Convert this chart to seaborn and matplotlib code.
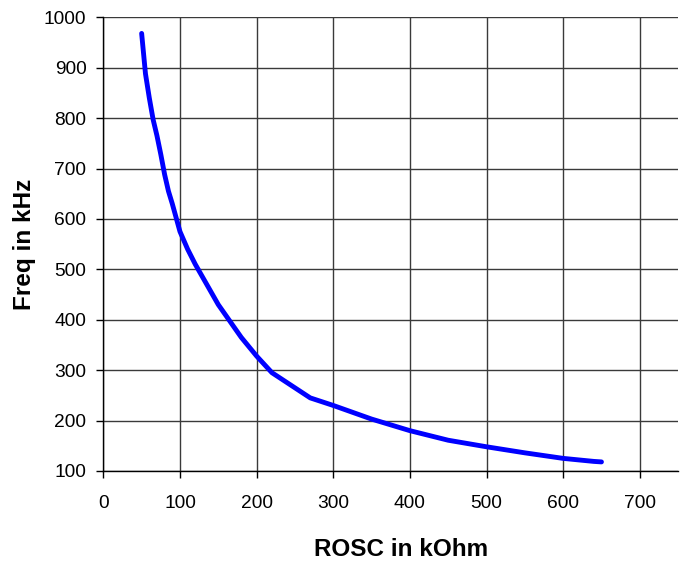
import matplotlib
matplotlib.use("Agg")
import matplotlib.pyplot as plt
import seaborn as sns
import pandas as pd

# ROSC (kOhm) vs oscillator frequency (kHz)
rosc_kohm = [50, 55, 60, 65, 70, 75, 80, 85, 90, 100, 110, 120, 150, 180, 200,
             220, 250, 270, 300, 350, 400, 450, 500, 550, 600, 620, 640, 650]
freq_khz = [968, 888, 840, 797, 765, 728, 688, 655, 630, 575, 540, 510, 430, 365, 328,
            295, 265, 245, 230, 203, 180, 161, 148, 136, 125, 122, 119, 118]

x_ticks = [0, 100, 200, 300, 400, 500, 600, 700]
y_ticks = [100, 200, 300, 400, 500, 600, 700, 800, 900, 1000]

df = pd.DataFrame({"rosc": rosc_kohm, "freq": freq_khz})

sns.set_theme(style="white")
plt.rcParams["font.family"] = ["Liberation Sans", "DejaVu Sans"]

fig = plt.figure(figsize=(6.82, 5.65), dpi=100)
ax = fig.add_axes([0.1515, 0.1664, 0.8428, 0.8030])

sns.lineplot(data=df, x="rosc", y="freq", color="#0000ff", linewidth=3.5,
             solid_capstyle="round", ax=ax)

ax.set_xlim(0, 750)
ax.set_ylim(100, 1000)
ax.set_xticks(x_ticks)
ax.set_yticks(y_ticks)
ax.grid(True, color="#3a3a3a", linewidth=1.0)
ax.set_axisbelow(True)

for side in ("top", "right"):
    ax.spines[side].set_visible(False)
for side in ("left", "bottom"):
    ax.spines[side].set_color("black")
    ax.spines[side].set_linewidth(1.0)

ax.tick_params(axis="both", direction="out", length=4.7, width=1, color="black",
               labelsize=13.8, labelcolor="black", left=True, bottom=True)
ax.tick_params(axis="y", pad=7.5)
ax.tick_params(axis="x", pad=12.5)

ax.set_xlabel("ROSC in kOhm", fontsize=17.5, fontweight="bold", color="black")
ax.set_ylabel("Freq in kHz", fontsize=17.5, fontweight="bold", color="black")
ax.xaxis.set_label_coords(0.518, -0.172)
ax.xaxis.label.set_va("center")
ax.yaxis.set_label_coords(-0.137, 0.5)
ax.yaxis.label.set_va("center")

fig.savefig("out.png", dpi=100)
